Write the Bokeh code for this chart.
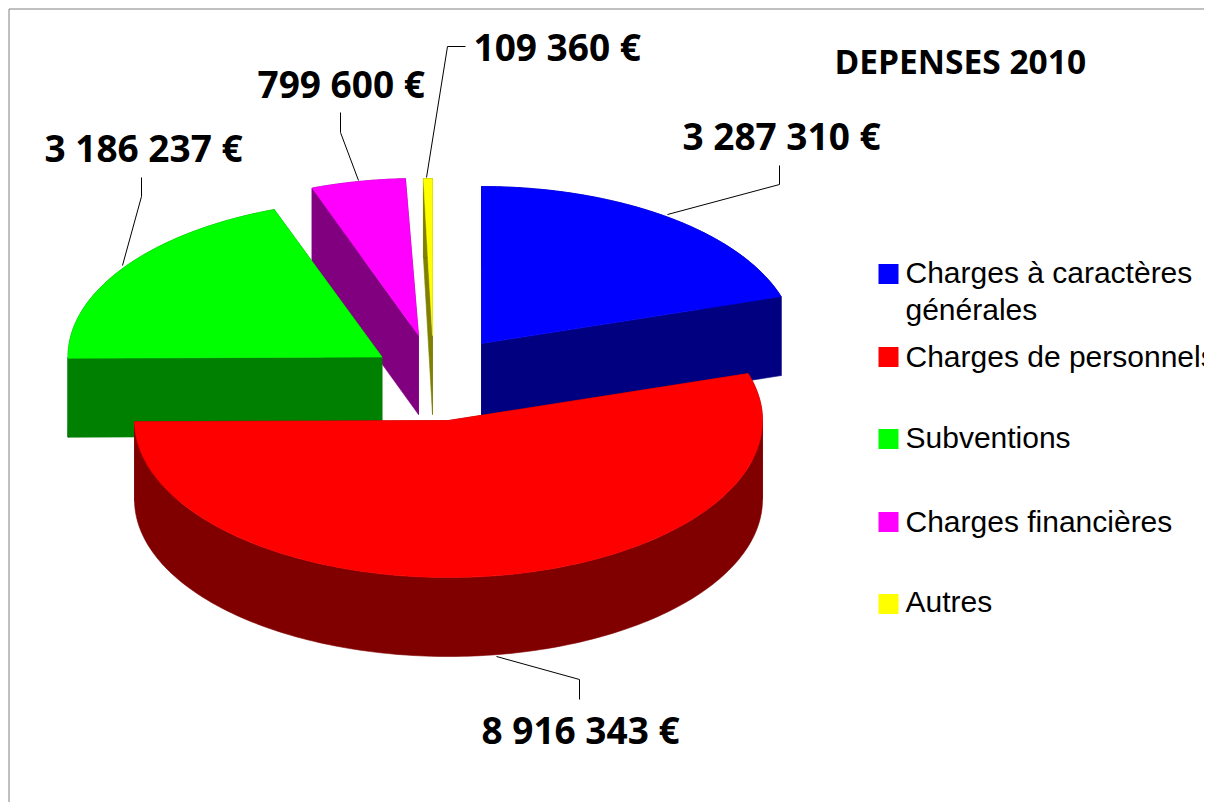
import math
from bokeh.plotting import figure
from bokeh.models import Range1d
from bokeh.core.properties import value
from bokeh.embed import file_html
from bokeh.resources import INLINE

# ---- data ----
title = "DEPENSES 2010"
categories = ["Charges à caractères\ngénérales", "Charges de personnels", "Subventions",
              "Charges financières", "Autres"]
values = [3287310, 8916343, 3186237, 799600, 109360]

# ---- style ----
top_colors = ["#0000ff", "#ff0000", "#00ff00", "#ff00ff", "#ffff00"]
side_colors = ["#000080", "#800000", "#008000", "#800080", "#808000"]
apex_x = [481, 448, 381.5, 418, 432]
apex_y = [343, 420, 356.5, 335, 335]
rim_rx = [314, 314, 314, 310, 215]
RY, DEPTH = 157, 79
draw_order = [4, 3, 0, 2, 1]
W, H, M = 1204, 802, 8

total = sum(values)
bounds = [0.0]
for v in values:
    bounds.append(bounds[-1] + v / total * 2 * math.pi)


def rim(i, t):
    return apex_x[i] + rim_rx[i] * math.sin(t), apex_y[i] - RY * math.cos(t)


def arc(i, a, b, n=160):
    return [rim(i, a + (b - a) * k / n) for k in range(n + 1)]


def extrude(pts):
    low = [(x, y + DEPTH) for x, y in pts]
    return pts + low[::-1]


xs, ys, fill = [], [], []


def add(pts, col):
    xs.append([p[0] for p in pts])
    ys.append([p[1] for p in pts])
    fill.append(col)


for i in draw_order:
    a, b = bounds[i], bounds[i + 1]
    apex = (apex_x[i], apex_y[i])
    add(extrude([apex, rim(i, a)]), side_colors[i])
    add(extrude([apex, rim(i, b)]), side_colors[i])
    cuts = [a] + [c for c in (math.pi / 2, 3 * math.pi / 2) if a < c < b] + [b]
    for s, e in zip(cuts, cuts[1:]):
        add(extrude(arc(i, s, e)), side_colors[i])
    add([apex] + arc(i, a, b), top_colors[i])

p = figure(width=W, height=H, output_backend="svg", toolbar_location=None,
           x_range=Range1d(0, W), y_range=Range1d(H, 0), min_border=0,
           outline_line_color=None, background_fill_color="white", border_fill_color="white")
p.axis.visible = False
p.grid.visible = False

# frame (left and top edges only are in view)
p.line([M + 0.5, M + 0.5, W], [H, M + 0.5, M + 0.5], line_color="#808080", line_width=1)

p.patches(xs, ys, fill_color=fill, line_color=fill, line_width=0.6)

# leaders: blue, red, green, magenta, yellow
lead_x = [[667, 779, 779], [496, 579, 579], [122, 141, 141], [358, 340, 340], [426, 447, 465]]
lead_y = [[214, 184, 165], [656, 679, 699], [265, 196, 177], [180, 132, 112], [177, 46, 46]]
p.multi_line(lead_x, lead_y, line_color="#000000", line_width=1)

labels = [f"{v:,}".replace(",", " ") + " €" for v in values]
lab_x = [682, 481, 44, 257, 473]
lab_y = [135, 729, 147, 83, 46]
p.text(lab_x, lab_y, text=labels, text_font=value("Open Sans"), text_font_style="bold",
       text_font_size="37px", text_baseline="alphabetic", text_align="left", text_color="#000000")
p.text([834], [60], text=[title], text_font=value("Open Sans"), text_font_style="bold",
       text_font_size="33.5px", text_baseline="alphabetic", text_align="left", text_color="#000000")

# legend
sw_top = [263.5, 346.5, 428.5, 511.5, 593.5]
base = [272, 356, 437, 521, 601]
p.quad(left=[878] * 5, right=[898] * 5, top=sw_top, bottom=[t + 20 for t in sw_top],
       fill_color=top_colors, line_color=None)
tx, ty, tt = [], [], []
for c, b in zip(categories, base):
    for k, line in enumerate(c.split("\n")):
        tx.append(905)
        ty.append(b + 37 * k)
        tt.append(line)
p.text(tx, ty, text=tt, text_font=value("Liberation Sans"), text_font_size="30px",
       text_baseline="alphabetic", text_align="left", text_color="#000000")

open("out.html", "w").write(file_html(p, INLINE))
